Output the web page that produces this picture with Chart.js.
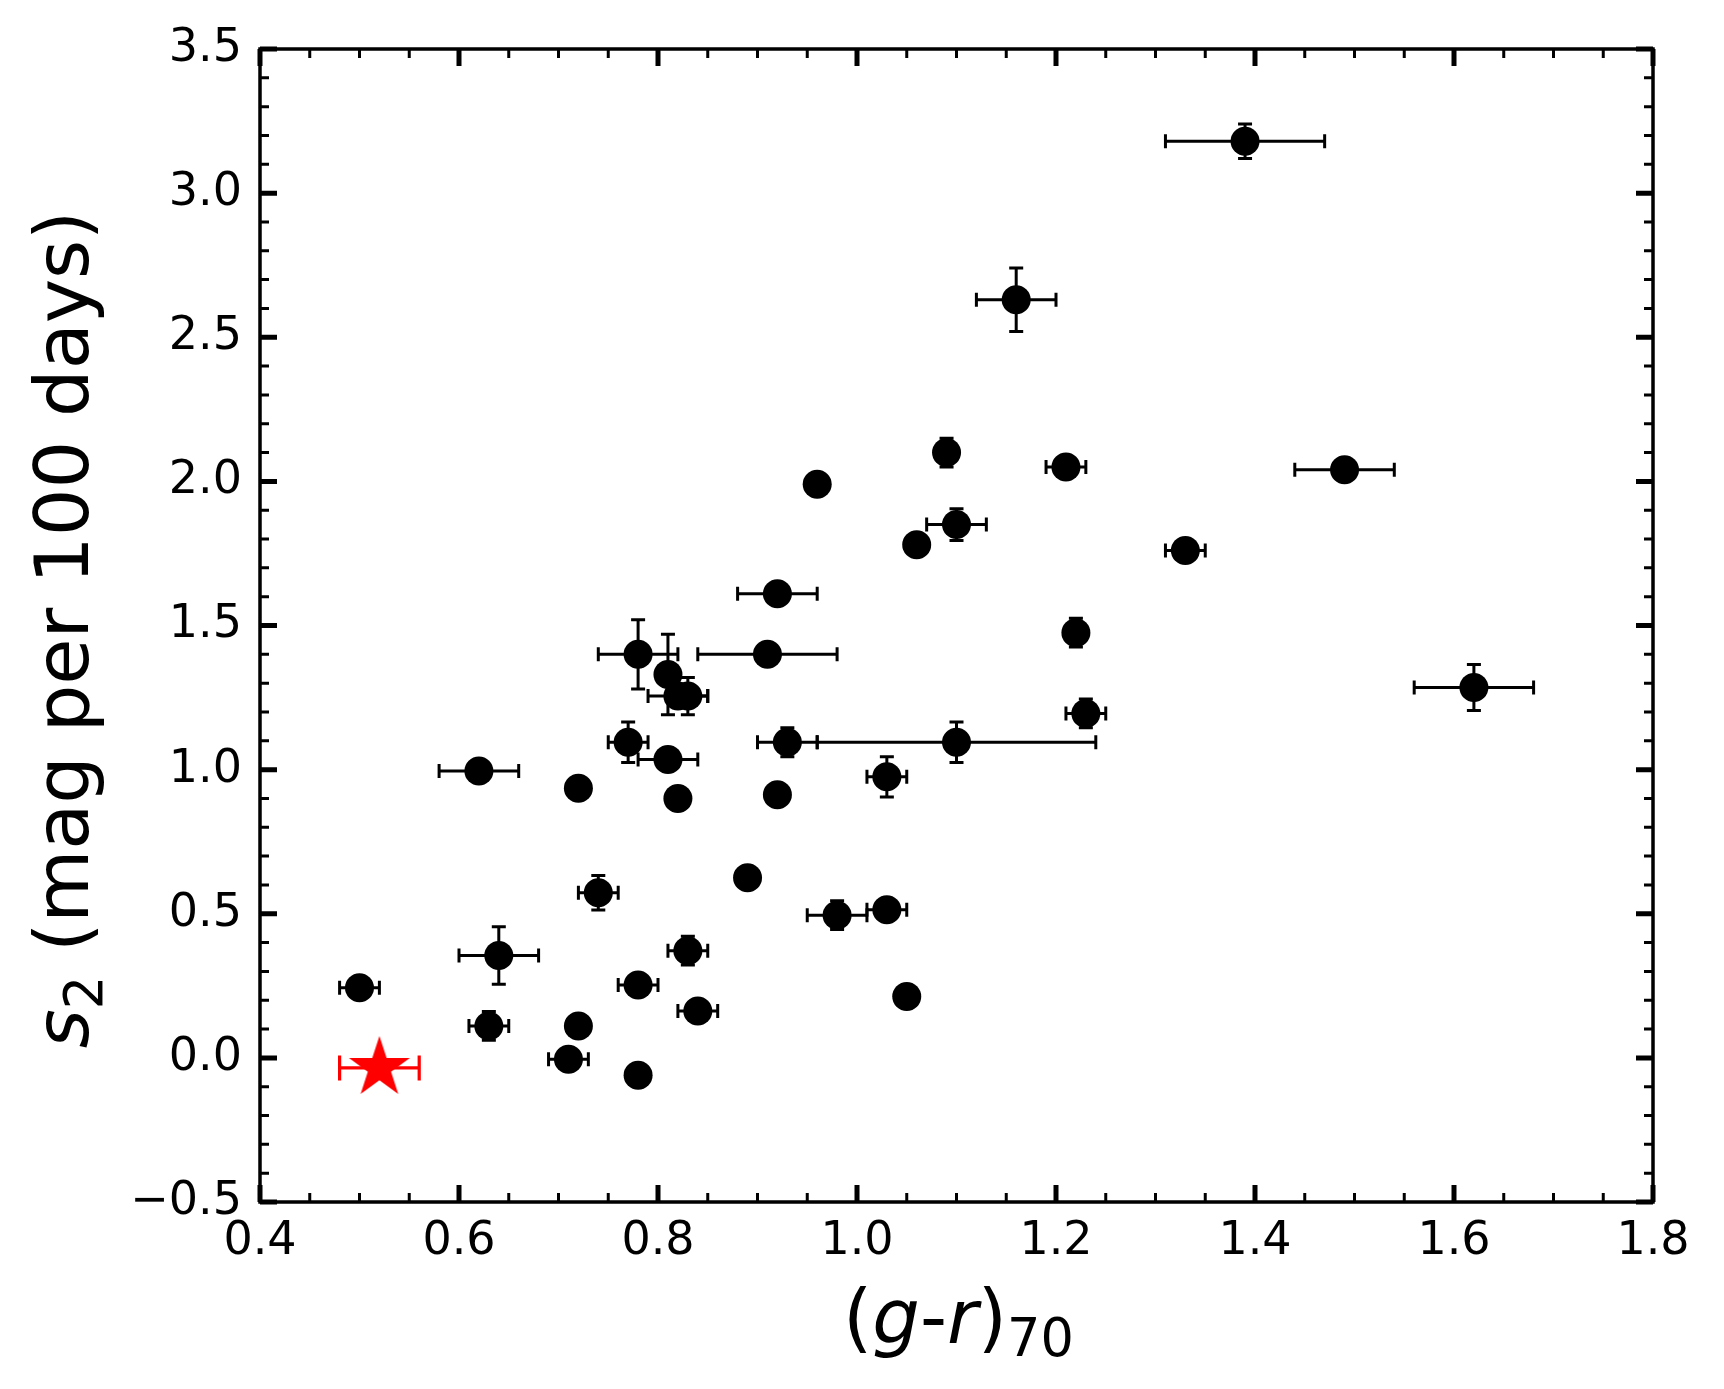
<!DOCTYPE html>
<html>
<head>
<meta charset="utf-8">
<title>s2 vs (g-r)70</title>
<script src="https://cdn.jsdelivr.net/npm/chart.js@4.4.1/dist/chart.umd.min.js"></script>
<style>
  html, body { margin: 0; padding: 0; background: #fff; }
  #wrap { width: 1724px; height: 1389px; }
</style>
</head>
<body>
<div id="wrap"><canvas id="chart" width="1724" height="1389"></canvas></div>
<script>
// ---- values ----
const grColour = [1.39, 1.16, 1.09, 1.21, 1.49, 0.96, 1.10, 1.06, 1.33, 0.92,
                  1.22, 0.78, 0.91, 0.81, 0.82, 0.83, 1.62, 1.23, 0.77, 0.93,
                  1.10, 0.81, 0.62, 0.72, 0.82, 0.92, 1.03, 0.89, 0.74, 0.98,
                  1.03, 0.64, 0.83, 0.78, 0.50, 0.84, 1.05, 0.63, 0.72, 0.71, 0.78];
const s2Slope  = [3.18, 2.63, 2.10, 2.05, 2.04, 1.99, 1.85, 1.78, 1.76, 1.61,
                  1.475, 1.40, 1.40, 1.33, 1.255, 1.255, 1.285, 1.195, 1.095, 1.095,
                  1.095, 1.035, 0.995, 0.935, 0.90, 0.913, 0.975, 0.625, 0.573, 0.495,
                  0.514, 0.355, 0.372, 0.253, 0.243, 0.163, 0.213, 0.111, 0.111, -0.005, -0.06];
const grErr    = [0.08, 0.04, 0, 0.02, 0.05, 0, 0.03, 0, 0.02, 0.04,
                  0, 0.04, 0.07, 0, 0.03, 0.02, 0.06, 0.02, 0.02, 0.03,
                  0.14, 0.03, 0.04, 0, 0, 0, 0.02, 0, 0.02, 0.03,
                  0.02, 0.04, 0.02, 0.02, 0.02, 0.02, 0, 0.02, 0, 0.02, 0];
const s2Err    = [0.06, 0.11, 0.05, 0, 0, 0, 0.055, 0, 0, 0,
                  0.05, 0.12, 0, 0.14, 0, 0.065, 0.08, 0.05, 0.07, 0.05,
                  0.07, 0, 0, 0, 0, 0, 0.07, 0, 0.06, 0.05,
                  0, 0.10, 0.05, 0, 0, 0, 0, 0.05, 0, 0, 0];

// the red star
const starGr = [0.52];
const starS2 = [-0.035];
const starGrErr = [0.04];

const xTicks = [0.4, 0.6, 0.8, 1.0, 1.2, 1.4, 1.6, 1.8];
const yTicks = [-0.5, 0.0, 0.5, 1.0, 1.5, 2.0, 2.5, 3.0, 3.5];

const FONT = "'DejaVu Sans', 'Noto Sans', sans-serif";
const fmt = v => v.toFixed(1).replace('-', '\u2212');

// 1. star marker as a small canvas, used as pointStyle
function makeStar(R, colour) {
  const c = document.createElement('canvas');
  const size = Math.ceil(R * 2 + 4);
  c.width = size; c.height = size;
  const g = c.getContext('2d');
  const r = R * 0.381966;
  g.beginPath();
  for (let k = 0; k < 10; k++) {
    const rad = k % 2 === 0 ? R : r;
    const a = -Math.PI / 2 + k * Math.PI / 5;
    const px = size / 2 + rad * Math.cos(a);
    const py = size / 2 + rad * Math.sin(a);
    k === 0 ? g.moveTo(px, py) : g.lineTo(px, py);
  }
  g.closePath();
  g.fillStyle = colour;
  g.fill();
  return c;
}

// 2. error bars, under the markers
function drawBar(ctx, xs, ys, xv, yv, xe, ye, cap) {
  const px = xs.getPixelForValue(xv);
  const py = ys.getPixelForValue(yv);
  ctx.beginPath();
  if (xe > 0) {
    const x0 = xs.getPixelForValue(xv - xe), x1 = xs.getPixelForValue(xv + xe);
    ctx.moveTo(x0, py); ctx.lineTo(x1, py);
    ctx.moveTo(x0, py - cap); ctx.lineTo(x0, py + cap);
    ctx.moveTo(x1, py - cap); ctx.lineTo(x1, py + cap);
  }
  if (ye > 0) {
    const y0 = ys.getPixelForValue(yv - ye), y1 = ys.getPixelForValue(yv + ye);
    ctx.moveTo(px, y0); ctx.lineTo(px, y1);
    ctx.moveTo(px - cap, y0); ctx.lineTo(px + cap, y0);
    ctx.moveTo(px - cap, y1); ctx.lineTo(px + cap, y1);
  }
  ctx.stroke();
}

function drawErrorBars(chart) {
  const { ctx, scales: { x, y } } = chart;
  ctx.save();
  ctx.lineCap = 'butt';
  ctx.lineWidth = 3;
  ctx.strokeStyle = '#000';
  grColour.forEach((v, i) => drawBar(ctx, x, y, v, s2Slope[i], grErr[i], s2Err[i], 7));
  ctx.strokeStyle = '#ff0000';
  ctx.lineWidth = 3.2;
  starGr.forEach((v, i) => drawBar(ctx, x, y, v, starS2[i], starGrErr[i], 0, 12.5));
  ctx.restore();
}

// 3. matplotlib-like frame with inward ticks on all sides
function drawFrame(chart) {
  const { ctx, chartArea: a, scales: { x, y } } = chart;
  ctx.save();
  ctx.strokeStyle = '#000';
  ctx.lineCap = 'butt';

  const tick = (px, len, w, vertical) => {
    ctx.lineWidth = w;
    ctx.beginPath();
    if (vertical) {
      ctx.moveTo(px, a.bottom); ctx.lineTo(px, a.bottom - len);
      ctx.moveTo(px, a.top); ctx.lineTo(px, a.top + len);
    } else {
      ctx.moveTo(a.left, px); ctx.lineTo(a.left + len, px);
      ctx.moveTo(a.right, px); ctx.lineTo(a.right - len, px);
    }
    ctx.stroke();
  };

  for (let k = 0; k <= 28; k++) {
    if (k % 4 !== 0) tick(x.getPixelForValue(0.4 + k * 0.05), 9, 3, true);
  }
  for (let k = 0; k <= 40; k++) {
    if (k % 5 !== 0) tick(y.getPixelForValue(-0.5 + k * 0.1), 9, 3, false);
  }
  xTicks.forEach(v => tick(x.getPixelForValue(v), 17, 5, true));
  yTicks.forEach(v => tick(y.getPixelForValue(v), 17, 5, false));

  ctx.lineWidth = 3.5;
  ctx.strokeRect(a.left, a.top, a.right - a.left, a.bottom - a.top);
  ctx.restore();
}

// 4. axis titles with italic and subscript pieces
function richWidth(ctx, parts, size) {
  let w = 0;
  parts.forEach(p => {
    ctx.font = (p.it ? 'italic ' : '') + (p.sub ? size * 0.7 : size) + 'px ' + FONT;
    w += ctx.measureText(p.t).width;
  });
  return w;
}

function drawRich(ctx, parts, size, drop) {
  let cx = -richWidth(ctx, parts, size) / 2;
  parts.forEach(p => {
    ctx.font = (p.it ? 'italic ' : '') + (p.sub ? size * 0.7 : size) + 'px ' + FONT;
    ctx.fillText(p.t, cx, p.sub ? drop : 0);
    cx += ctx.measureText(p.t).width;
  });
}

function drawTitles(chart) {
  const { ctx, chartArea: a } = chart;
  const size = 75;
  ctx.save();
  ctx.fillStyle = '#000';
  ctx.textBaseline = 'alphabetic';
  ctx.textAlign = 'left';

  ctx.save();
  ctx.translate((a.left + a.right) / 2 + 2, 1343);
  drawRich(ctx, [
    { t: '(' }, { t: 'g', it: true }, { t: '-' }, { t: 'r', it: true }, { t: ')' }, { t: '70', sub: true }
  ], size, 13);
  ctx.restore();

  ctx.save();
  ctx.translate(88, (a.top + a.bottom) / 2 + 4);
  ctx.rotate(-Math.PI / 2);
  drawRich(ctx, [
    { t: 's', it: true }, { t: '2', sub: true }, { t: ' (mag per 100 days)' }
  ], size, 14);
  ctx.restore();

  ctx.restore();
}

const mplAxes = {
  id: 'mplAxes',
  beforeDatasetsDraw(chart) { drawErrorBars(chart); },
  afterDraw(chart) { drawFrame(chart); drawTitles(chart); }
};

const tickFont = { family: FONT, size: 46 };

new Chart(document.getElementById('chart').getContext('2d'), {
  type: 'scatter',
  data: {
    datasets: [
      {
        label: 'reference',
        data: starGr.map((v, i) => ({ x: v, y: starS2[i] })),
        pointStyle: makeStar(32, '#ff0000'),
        pointRadius: 32,
        order: 0
      },
      {
        label: 'sample',
        data: grColour.map((v, i) => ({ x: v, y: s2Slope[i] })),
        backgroundColor: '#000',
        borderWidth: 0,
        pointRadius: 14.5,
        pointHoverRadius: 14.5,
        order: 1
      }
    ]
  },
  options: {
    responsive: false,
    animation: false,
    devicePixelRatio: 1,
    events: [],
    layout: { padding: { top: 49, right: 71, left: 0, bottom: 0 } },
    plugins: { legend: { display: false }, tooltip: { enabled: false } },
    scales: {
      x: {
        type: 'linear', min: 0.4, max: 1.8,
        grid: { display: false, drawTicks: false },
        border: { display: false },
        afterBuildTicks: s => { s.ticks = xTicks.map(v => ({ value: v })); },
        afterFit: s => { s.height = 187; },
        ticks: { font: tickFont, color: '#000', padding: 12, maxRotation: 0, autoSkip: false, callback: v => fmt(v) }
      },
      y: {
        type: 'linear', min: -0.5, max: 3.5,
        grid: { display: false, drawTicks: false },
        border: { display: false },
        afterBuildTicks: s => { s.ticks = yTicks.map(v => ({ value: v })); },
        afterFit: s => { s.width = 260; },
        ticks: { font: tickFont, color: '#000', padding: 18, autoSkip: false, callback: v => fmt(v) }
      }
    }
  },
  plugins: [mplAxes]
});
</script>
</body>
</html>
